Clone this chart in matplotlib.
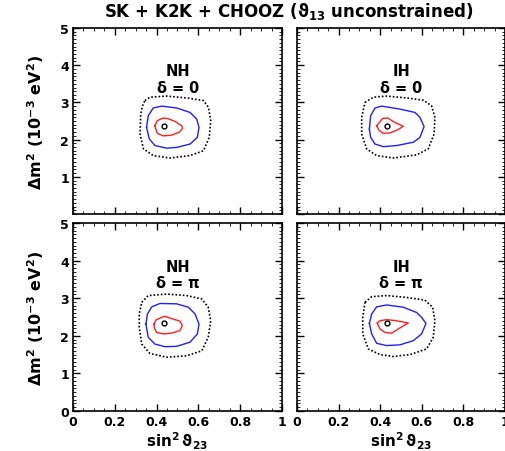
import matplotlib
matplotlib.use('Agg')
import matplotlib.pyplot as plt
from matplotlib.ticker import MultipleLocator

plt.rcParams['font.family'] = ['DejaVu Sans']
plt.rcParams['font.weight'] = 'bold'
plt.rcParams['mathtext.fontset'] = 'dejavusans'

# Pannelli: gerarchia e fase
pannelli = [('NH', r'$\mathbf{\delta}$ = 0'), ('IH', r'$\mathbf{\delta}$ = 0'),
            ('NH', r'$\mathbf{\delta}$ = $\mathbf{\pi}$'), ('IH', r'$\mathbf{\delta}$ = $\mathbf{\pi}$')]

# Contorni (sin^2 theta23, dm2 in 1e-3 eV^2)
nero_x = [
    [0.344, 0.368, 0.448, 0.544, 0.624, 0.648, 0.659, 0.652, 0.624, 0.560, 0.464, 0.384, 0.337, 0.321, 0.324, 0.333],
    [0.327, 0.367, 0.431, 0.527, 0.607, 0.647, 0.663, 0.659, 0.631, 0.575, 0.463, 0.383, 0.335, 0.311, 0.311],
    [0.329, 0.360, 0.448, 0.544, 0.616, 0.647, 0.659, 0.647, 0.616, 0.544, 0.448, 0.368, 0.329, 0.317, 0.317],
    [0.327, 0.359, 0.431, 0.527, 0.615, 0.652, 0.663, 0.655, 0.623, 0.543, 0.463, 0.399, 0.343, 0.316, 0.316],
]
nero_y = [
    [3.05, 3.14, 3.17, 3.12, 3.05, 2.87, 2.51, 2.06, 1.70, 1.57, 1.505, 1.57, 1.75, 2.15, 2.69, 2.91],
    [3.00, 3.14, 3.17, 3.12, 3.06, 2.91, 2.60, 2.15, 1.75, 1.59, 1.505, 1.57, 1.75, 2.15, 2.60],
    [2.89, 3.07, 3.11, 3.07, 2.98, 2.76, 2.40, 1.96, 1.60, 1.47, 1.43, 1.53, 1.78, 2.23, 2.58],
    [2.89, 3.04, 3.07, 3.02, 2.95, 2.76, 2.40, 1.96, 1.65, 1.50, 1.45, 1.50, 1.65, 2.05, 2.49],
]
blu_x = [
    [0.352, 0.360, 0.384, 0.424, 0.496, 0.560, 0.592, 0.603, 0.595, 0.560, 0.496, 0.448, 0.392, 0.365],
    [0.348, 0.354, 0.375, 0.407, 0.495, 0.567, 0.591, 0.611, 0.591, 0.560, 0.479, 0.415, 0.375, 0.354],
    [0.349, 0.356, 0.377, 0.416, 0.496, 0.552, 0.584, 0.603, 0.595, 0.560, 0.496, 0.440, 0.392, 0.360],
    [0.348, 0.359, 0.383, 0.431, 0.511, 0.575, 0.599, 0.620, 0.599, 0.559, 0.495, 0.431, 0.383, 0.359],
]
blu_y = [
    [2.33, 2.64, 2.85, 2.90, 2.85, 2.73, 2.55, 2.33, 2.06, 1.88, 1.79, 1.77, 1.84, 2.02],
    [2.28, 2.64, 2.85, 2.90, 2.82, 2.73, 2.60, 2.35, 2.06, 1.93, 1.84, 1.81, 1.88, 2.06],
    [2.31, 2.58, 2.77, 2.86, 2.85, 2.76, 2.58, 2.31, 2.05, 1.83, 1.72, 1.71, 1.78, 1.96],
    [2.33, 2.58, 2.77, 2.82, 2.76, 2.62, 2.49, 2.33, 2.05, 1.87, 1.76, 1.74, 1.80, 2.05],
]
rosso_x = [
    [0.392, 0.403, 0.432, 0.456, 0.488, 0.520, 0.525, 0.509, 0.472, 0.432, 0.403],
    [0.383, 0.396, 0.412, 0.436, 0.450, 0.471, 0.511, 0.487, 0.447, 0.415, 0.396],
    [0.388, 0.397, 0.424, 0.440, 0.464, 0.512, 0.523, 0.512, 0.472, 0.432, 0.400, 0.389],
    [0.386, 0.399, 0.431, 0.479, 0.535, 0.495, 0.455, 0.423, 0.399],
]
rosso_y = [
    [2.37, 2.51, 2.58, 2.56, 2.49, 2.37, 2.31, 2.20, 2.12, 2.10, 2.17],
    [2.37, 2.46, 2.57, 2.58, 2.53, 2.46, 2.36, 2.27, 2.18, 2.17, 2.24],
    [2.31, 2.42, 2.49, 2.52, 2.47, 2.39, 2.27, 2.14, 2.07, 2.05, 2.09, 2.21],
    [2.34, 2.40, 2.43, 2.40, 2.34, 2.21, 2.07, 2.09, 2.18],
]
# Punto di best fit
best_x = [0.435, 0.431, 0.435, 0.431]
best_y = [2.36, 2.36, 2.34, 2.34]

W, H = 506, 452
fig = plt.figure(figsize=(W / 100, H / 100), dpi=100)

# posizioni in pixel: (sinistra, basso, larghezza, altezza)
box = [(73, 215, 209, 186), (297, 215, 208, 186),
       (73, 412, 209, 188), (297, 412, 208, 188)]


def chiudi(v):
    return list(v) + [v[0]]


for i, (l, b, w, h) in enumerate(box):
    ax = fig.add_axes([l / W, (H - b) / H, w / W, h / H])
    ax.plot(chiudi(nero_x[i]), chiudi(nero_y[i]), color='black', ls=(0, (1, 1.2)), lw=1.2)
    ax.plot(chiudi(blu_x[i]), chiudi(blu_y[i]), color='#1f1fff', lw=1.0)
    ax.plot(chiudi(rosso_x[i]), chiudi(rosso_y[i]), color='#ff1f1f', lw=1.0)
    ax.plot(best_x[i], best_y[i], 'o', mfc='none', mec='black', ms=3.5, mew=1.0)

    ax.text(0.5, 0.77, pannelli[i][0], transform=ax.transAxes, ha='center', va='center',
            fontsize=10.5, fontweight='bold')
    ax.text(0.5, 0.685, pannelli[i][1], transform=ax.transAxes, ha='center', va='center',
            fontsize=10.5, fontweight='bold')

    ax.set_xlim(0, 1)
    ax.set_ylim(0, 5)
    ax.xaxis.set_major_locator(MultipleLocator(0.2))
    ax.xaxis.set_minor_locator(MultipleLocator(0.05))
    ax.yaxis.set_major_locator(MultipleLocator(1))
    ax.yaxis.set_minor_locator(MultipleLocator(0.1))
    ax.tick_params(which='both', direction='in', top=True, right=True, labelsize=9, pad=3)
    ax.tick_params(which='major', length=5, width=1)
    ax.tick_params(which='minor', length=2.5, width=0.6)
    for s in ax.spines.values():
        s.set_linewidth(1.2)

    if i % 2 == 1:
        ax.set_yticklabels([])
    else:
        ax.set_ylabel(r'$\mathbf{\Delta m^2}$ (10$^{\mathbf{-3}}$ eV$^{\mathbf{2}}$)',
                      fontsize=11.5, fontweight='bold', labelpad=10)
        if i == 0:
            ax.set_yticks([1, 2, 3, 4, 5])
    if i < 2:
        ax.set_xticklabels([])
    else:
        ax.set_xticks([0, 0.2, 0.4, 0.6, 0.8, 1])
        ax.set_xticklabels(['0', '0.2', '0.4', '0.6', '0.8', '1'])
        ax.set_xlabel(r'sin$^{\mathbf{2}}\,\mathbf{\vartheta_{23}}$', fontsize=11, fontweight='bold',
                      labelpad=1)
    for t in ax.get_xticklabels() + ax.get_yticklabels():
        t.set_fontweight('bold')

fig.text(0.57, 1 - 12 / H, r'SK + K2K + CHOOZ ($\mathbf{\vartheta_{13}}$ unconstrained)',
         ha='center', va='center', fontsize=12, fontweight='bold')

fig.savefig('out.png', dpi=100)
